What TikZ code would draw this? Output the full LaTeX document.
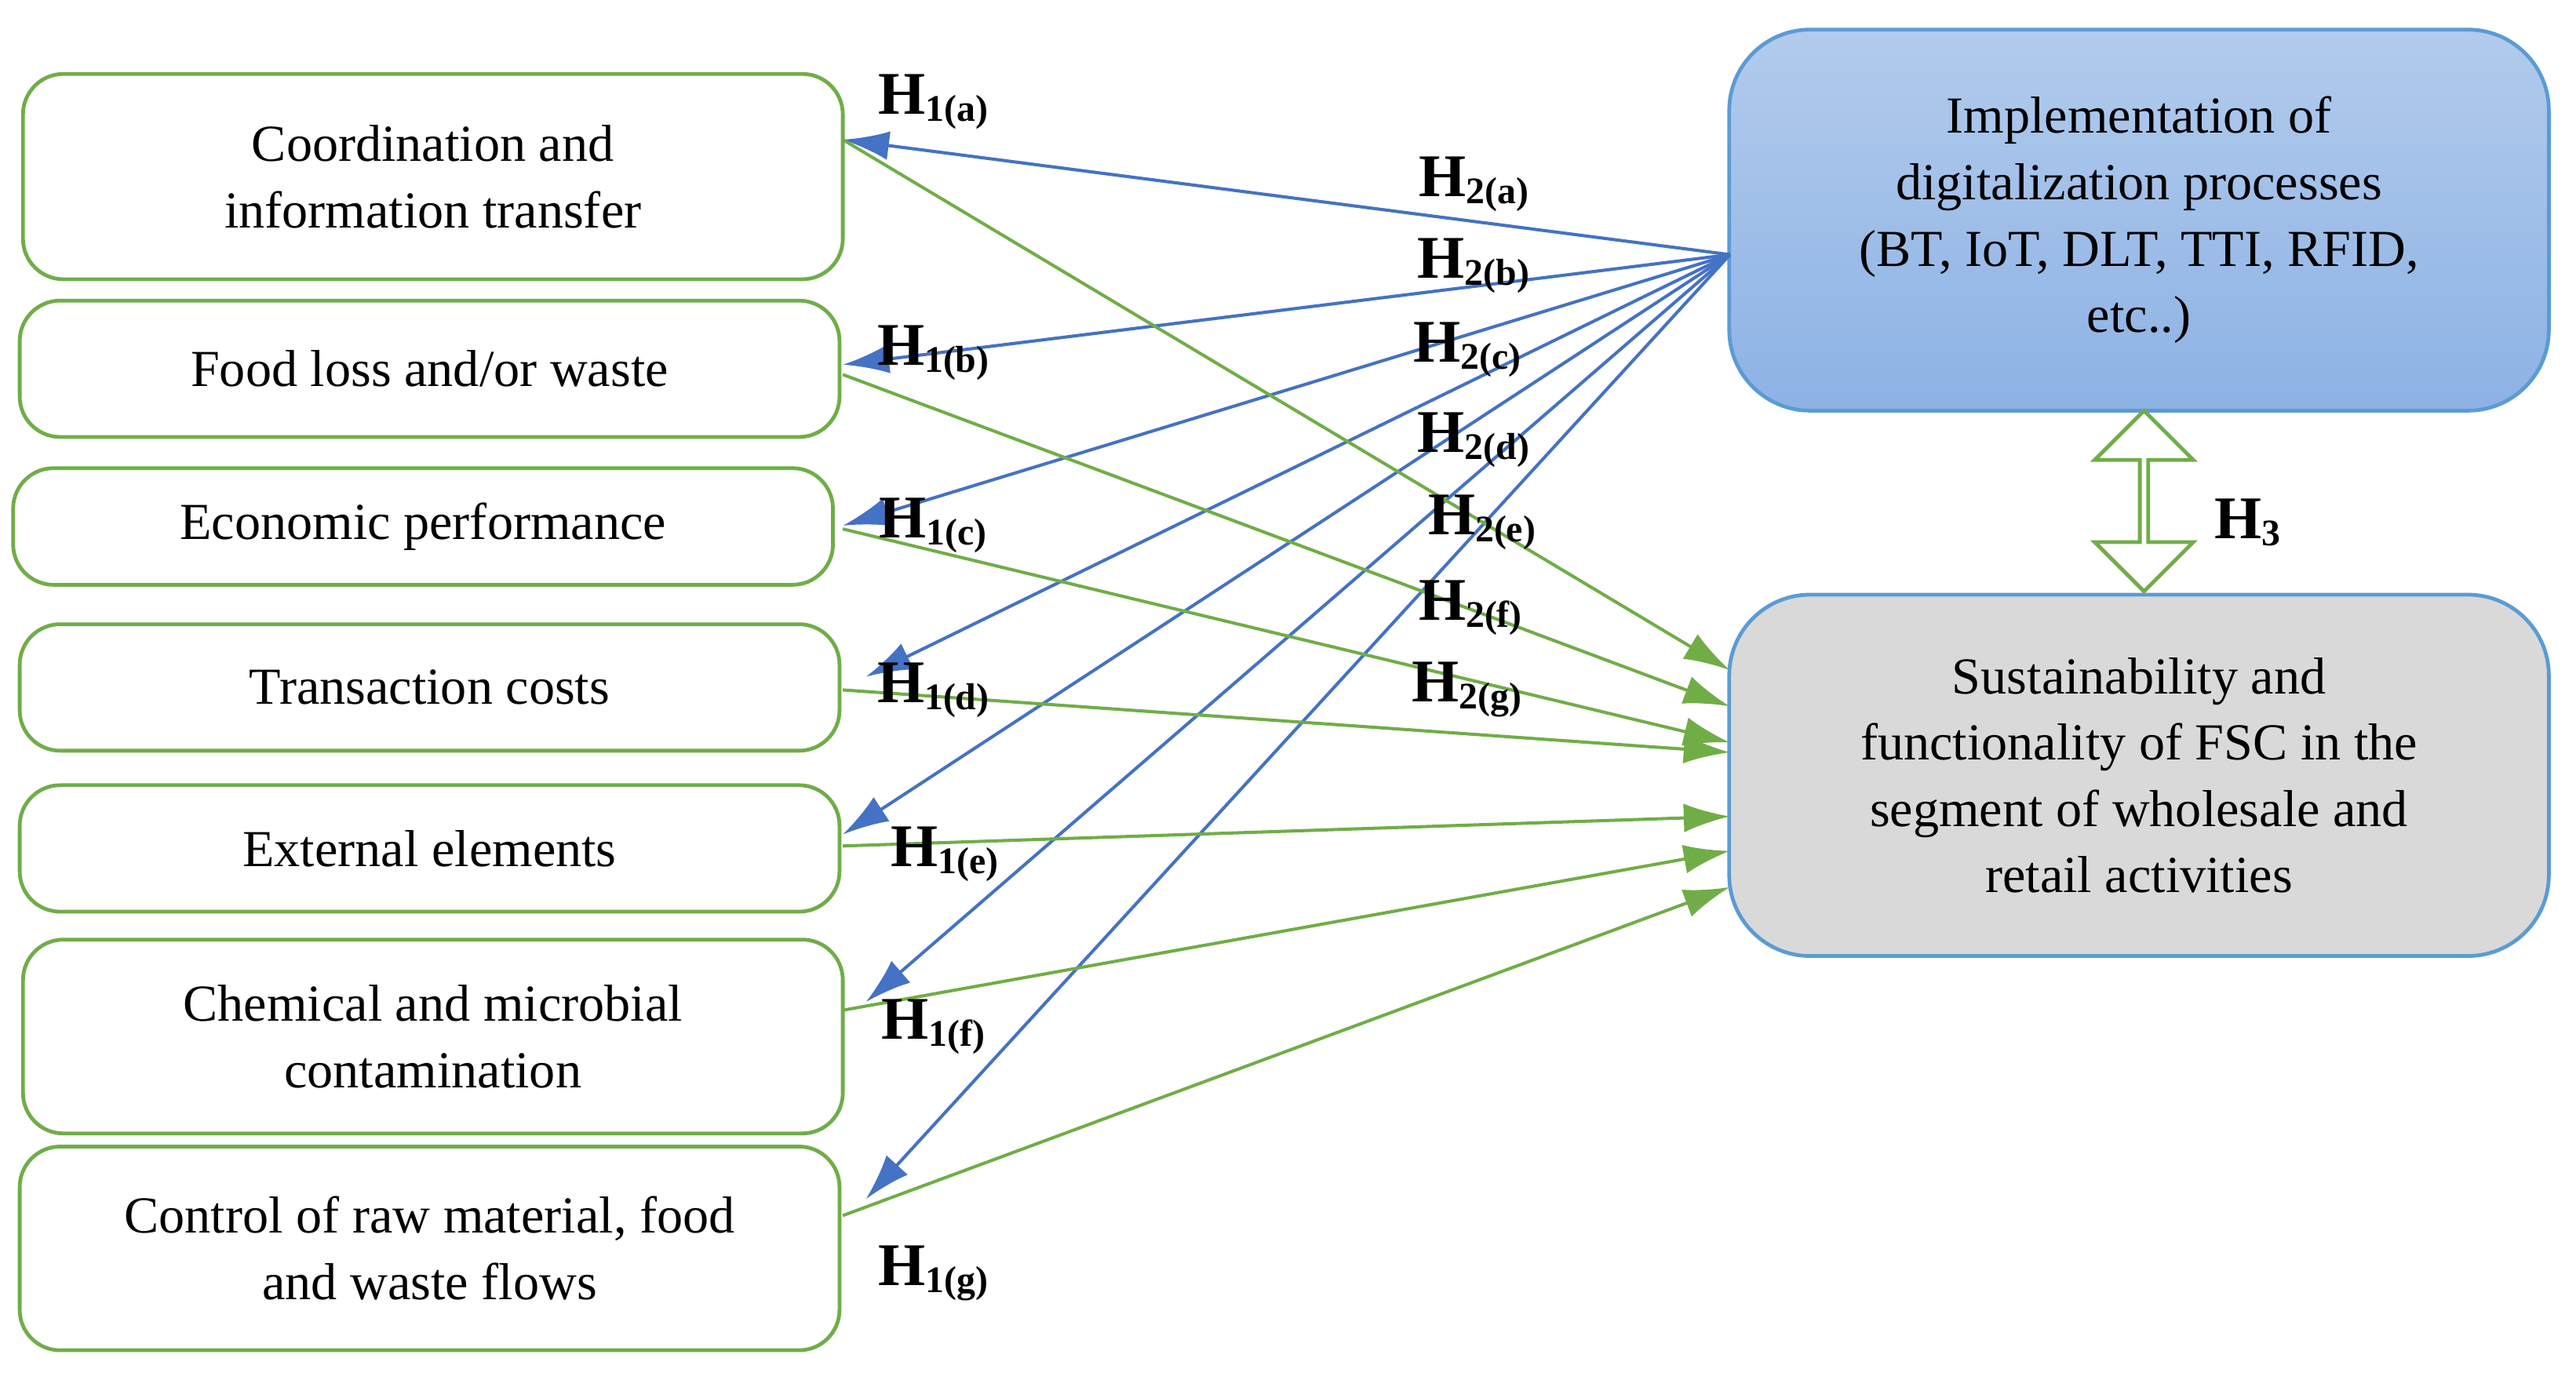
\documentclass[tikz,border=0pt]{standalone}
\usepackage{fontspec}
\setmainfont{Liberation Serif}
\usetikzlibrary{arrows.meta,shapes.arrows}
\definecolor{gr}{HTML}{70AD47}
\definecolor{bl}{HTML}{4472C4}
\definecolor{bb}{HTML}{5B9BD5}
\definecolor{bt}{HTML}{B2CBED}
\definecolor{bbot}{HTML}{8CB2E4}
\begin{document}
\begin{tikzpicture}[x=0.02cm,y=-0.02cm,
 lb/.style={draw=gr,line width=1.3pt,rounded corners=14pt,align=center,font=\fontsize{18}{23}\selectfont,inner sep=0pt},
 ba/.style={draw=bl,line width=1.1pt,-{Latex[length=16pt,width=10pt]}},
 ga/.style={draw=gr,line width=1.1pt,-{Latex[length=16pt,width=10pt]}},
 hl/.style={font=\fontsize{21}{22}\selectfont\bfseries}]
\useasboundingbox (0,0) rectangle (1568,840);
\newcommand\myssb[1]{\raisebox{-0.25ex}{\fontsize{13}{14}\selectfont #1}}
\newcommand\bx[6]{\node[lb,minimum width={(#4-#2)*0.02cm},minimum height={(#5-#3)*0.02cm}] (#1) at ({(#2+#4)/2},{(#3+#5)/2}) {#6};}
\bx{a}{14}{45}{513}{170}{Coordination and\\information transfer}
\bx{b}{12}{183}{511}{266}{Food loss and/or waste}
\bx{c}{8}{285}{507}{356}{Economic performance}
\bx{d}{12}{380}{511}{457}{Transaction costs}
\bx{e}{12}{478}{511}{555}{External elements}
\bx{f}{14}{572}{513}{690}{Chemical and microbial\\contamination}
\bx{g}{12}{698}{511}{822}{Control of raw material, food\\and waste flows}
\node[draw=bb,line width=1.3pt,rounded corners=28pt,top color=bt,bottom color=bbot,minimum width=9.98cm,minimum height=4.64cm,align=center,font=\fontsize{18}{23}\selectfont] (D) at (1302,134) {Implementation of\\digitalization processes\\(BT, IoT, DLT, TTI, RFID,\\etc..)};
\node[draw=bb,line width=1.3pt,rounded corners=28pt,fill=black!15,minimum width=9.98cm,minimum height=4.4cm,align=center,font=\fontsize{18}{23}\selectfont] (S) at (1302,472) {Sustainability and\\functionality of FSC in the\\segment of wholesale and\\retail activities};
\node[single arrow,double arrow,draw=gr,line width=1.3pt,fill=white,shape border rotate=90,minimum height=2.2cm,minimum width=1.2cm,single arrow head extend=0.25cm,inner sep=0pt] (H3) at (1305,305) {};
\node[hl] (h3) at (1368,318) {H\myssb{3}};
\coordinate (src) at (1053,155);
\foreach \n/\y in {a/85,b/222,c/320,d/412,e/508,f/610,g/730}{\coordinate (be\n) at (513,\y);}
\draw[ba] (src) -- (bea);
\draw[ba] (src) -- (beb);
\draw[ba] (src) -- (bec);
\draw[ba] (src) -- ([xshift=8pt]bed);
\draw[ba] (src) -- (bee);
\draw[ba] (src) -- ([xshift=8pt]bef);
\draw[ba] (src) -- ([xshift=8pt]beg);
\foreach \n/\ys/\ye in {a/85/408,b/228/430,c/322/452,d/420/458,e/515/497,f/615/518,g/740/540}{
 \coordinate (gs\n) at (513,\ys); \coordinate (ge\n) at (1053,\ye);
 \draw[ga] (gs\n) -- (ge\n);}
\foreach \t/\x/\y in {a/568/62,b/568/215,c/568/320,d/568/420,e/575/520,f/568/625,g/568/775}{\node[hl] (h1\t) at (\x,\y) {H\myssb{1(\t)}};}
\foreach \t/\x/\y in {a/897/112,b/897/162,c/893/213,d/897/268,e/902/318,f/895/370,g/893/420}{\node[hl] (h2\t) at (\x,\y) {H\myssb{2(\t)}};}
\end{tikzpicture}
\end{document}
